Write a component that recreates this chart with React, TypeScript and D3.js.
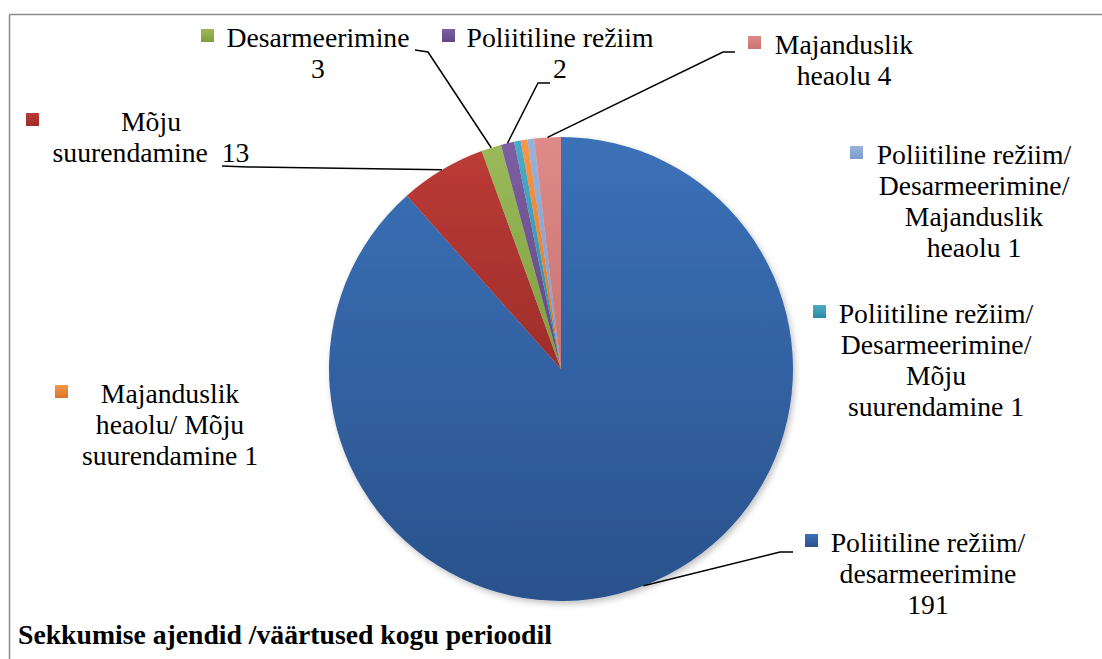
import React from "react";
import * as d3 from "d3";

// ---- data ----
const categories = [
  "Poliitiline režiim/ desarmeerimine",
  "Mõju suurendamine",
  "Desarmeerimine",
  "Poliitiline režiim",
  "Poliitiline režiim/ Desarmeerimine/ Mõju suurendamine",
  "Majanduslik heaolu/ Mõju suurendamine",
  "Poliitiline režiim/ Desarmeerimine/ Majanduslik heaolu",
  "Majanduslik heaolu",
];
const values = [191, 13, 3, 2, 1, 1, 1, 4];
const title = "Sekkumise ajendid /väärtused kogu perioodil";

// colours: [light, dark] per slice
const colors: [string, string][] = [
  ["#3b71b8", "#2a528c"],
  ["#bb3b37", "#9e2d2a"],
  ["#9aba5a", "#7f9e40"],
  ["#7d5fa2", "#624784"],
  ["#4bacc6", "#2e8aa4"],
  ["#f79646", "#d9762a"],
  ["#97b1dc", "#7f9cca"],
  ["#dd8a88", "#c97371"],
];

// ---- layout (label text wrapping, positions) ----
const labelWrap: string[][] = [
  ["Poliitiline režiim/", "desarmeerimine", ""],
  ["Mõju", "suurendamine "],
  ["Desarmeerimine", ""],
  ["Poliitiline režiim", ""],
  ["Poliitiline režiim/", "Desarmeerimine/", "Mõju", "suurendamine"],
  ["Majanduslik", "heaolu/ Mõju", "suurendamine"],
  ["Poliitiline režiim/", "Desarmeerimine/", "Majanduslik", "heaolu"],
  ["Majanduslik", "heaolu"],
];
// cx: text centre, y: first baseline, mx: marker left, knee: leader knee points (or null)
const labelPos: { cx: number; y: number; mx: number; knee: [number, number][] | null }[] = [
  { cx: 928, y: 552, mx: 805, knee: [[793, 552], [780, 552]] },
  { cx: 151, y: 131, mx: 26, knee: [[222, 166], [248, 167]] },
  { cx: 318, y: 47, mx: 201, knee: [[415, 50], [428, 52]] },
  { cx: 560, y: 47, mx: 442, knee: [[550, 83], [538, 83]] },
  { cx: 936, y: 323, mx: 813, knee: null },
  { cx: 170, y: 403, mx: 55, knee: null },
  { cx: 974, y: 164, mx: 850, knee: null },
  { cx: 844, y: 54, mx: 748, knee: [[735, 52], [723, 52]] },
];

const W = 1102;
const H = 659;
const CX = 561;
const CY = 369;
const R = 232;
const LH = 31;
const FS = 27.7;
const MS = 13;
const FONT = "'Liberation Serif', 'Times New Roman', serif";

export default function App() {
  const pie = d3.pie<number>().sort(null).value((d) => d);
  const arcs = pie(values);
  const arc = d3.arc<d3.PieArcDatum<number>>().innerRadius(0).outerRadius(R);

  return (
    <svg
      width={W}
      height={H}
      style={{ position: "absolute", left: 0, top: 0, background: "#fff" }}
      fontFamily={FONT}
    >
      <defs>
        {colors.map((c, i) => (
          <linearGradient key={i} id={`g${i}`} x1="0" y1="0" x2="0" y2="1">
            <stop offset="0%" stopColor={c[0]} />
            <stop offset="100%" stopColor={c[1]} />
          </linearGradient>
        ))}
        <filter id="shadow" x="-10%" y="-10%" width="120%" height="120%">
          <feDropShadow dx="2" dy="3" stdDeviation="3" floodColor="#000" floodOpacity="0.25" />
        </filter>
      </defs>
      <rect x={0} y={0} width={W} height={H} fill="#fff" />
      {/* frame */}
      <line x1={9.5} y1={14.5} x2={W} y2={14.5} stroke="#8a8a8a" strokeWidth={1.5} />
      <line x1={9.5} y1={14.5} x2={9.5} y2={H} stroke="#8a8a8a" strokeWidth={1.5} />

      <g transform={`translate(${CX},${CY})`} filter="url(#shadow)">
        {arcs.map((a, i) => (
          <path key={i} d={arc(a) || ""} fill={`url(#g${i})`} />
        ))}
      </g>

      {/* leader lines */}
      {arcs.map((a, i) => {
        const k = labelPos[i].knee;
        if (!k) return null;
        const mid = (a.startAngle + a.endAngle) / 2;
        const ex = CX + R * Math.sin(mid);
        const ey = CY - R * Math.cos(mid);
        const pts: [number, number][] = [...k, [ex, ey]];
        return (
          <path
            key={i}
            d={d3.line()(pts) || ""}
            fill="none"
            stroke="#000"
            strokeWidth={1.5}
          />
        );
      })}

      {/* labels */}
      {arcs.map((a, i) => {
        const lp = labelPos[i];
        const lines = labelWrap[i].slice();
        const last = lines.length - 1;
        lines[last] = (lines[last] ? lines[last] + " " : "") + values[i];
        return (
          <g key={i}>
            <rect
              x={lp.mx}
              y={lp.y - 18}
              width={MS}
              height={MS}
              fill={`url(#g${i})`}
            />
            <text
              fontSize={FS}
              textAnchor="middle"
              fill="#000"
              style={{ whiteSpace: "pre" }}
            >
              {lines.map((l, j) => (
                <tspan key={j} x={lp.cx} y={lp.y + j * LH}>
                  {l}
                </tspan>
              ))}
            </text>
          </g>
        );
      })}

      <text x={18} y={644} fontSize={FS} fontWeight="bold" fill="#000">
        {title}
      </text>
    </svg>
  );
}
